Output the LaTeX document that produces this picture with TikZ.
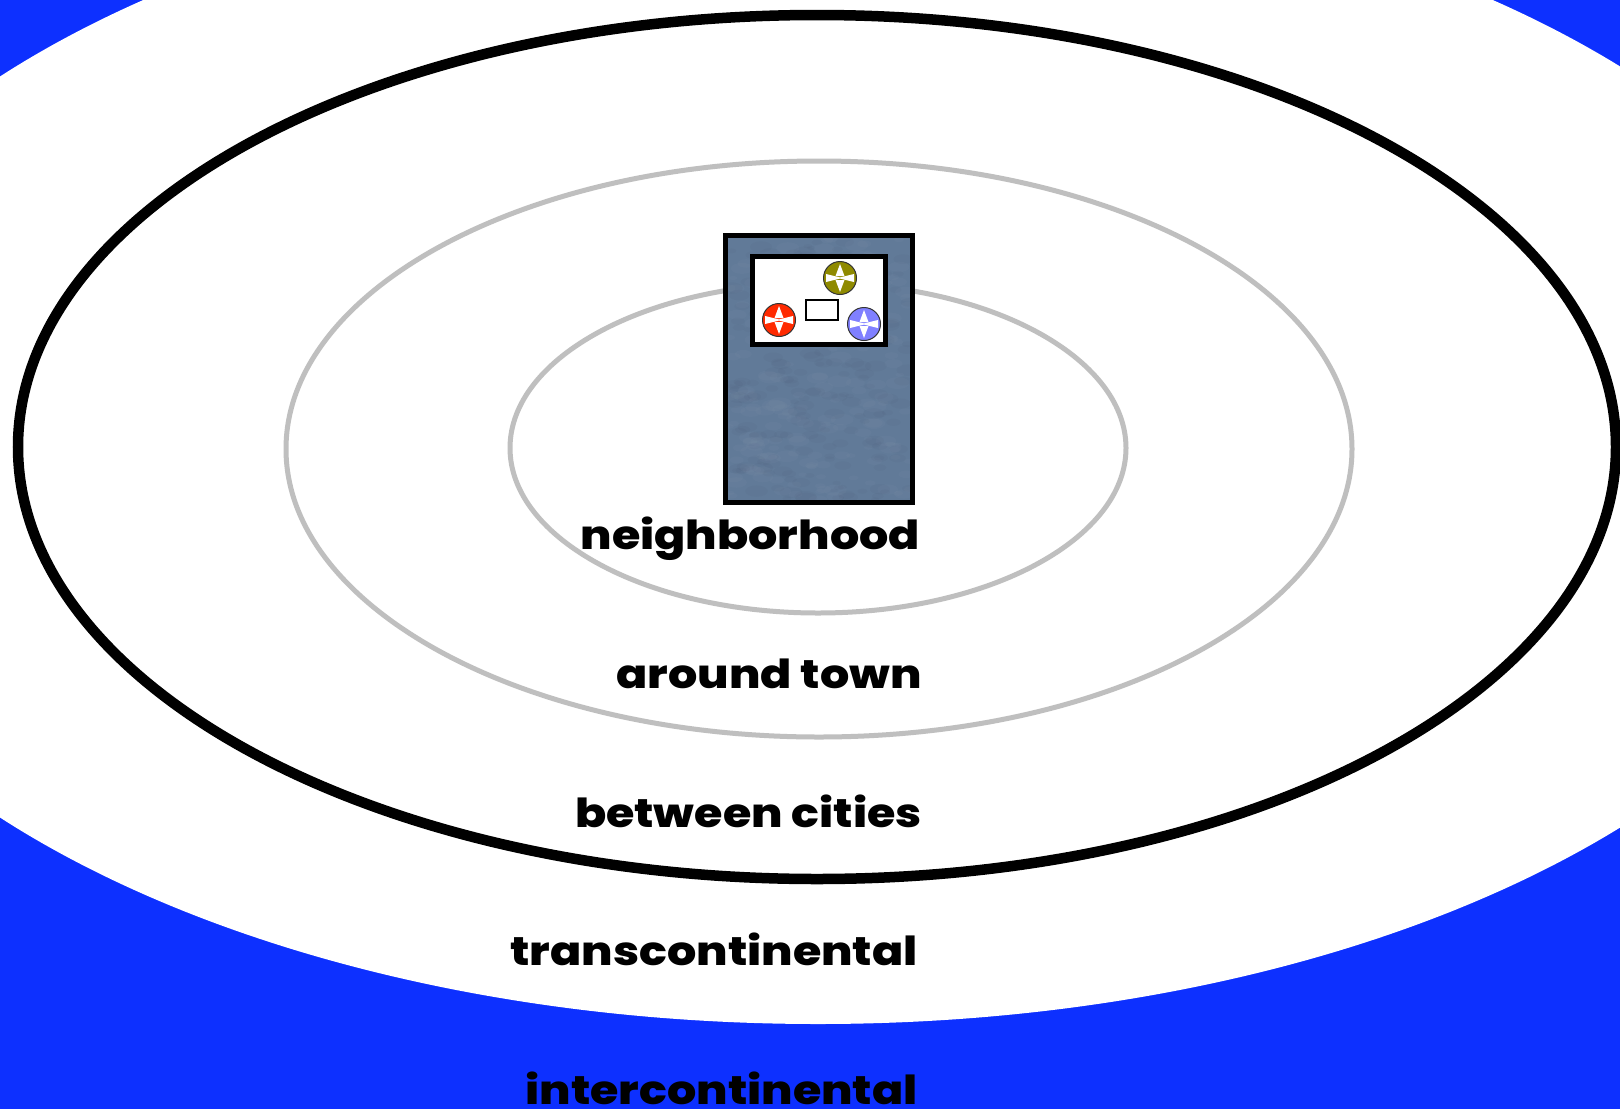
\documentclass[tikz,border=0pt]{standalone}
\usepackage{fontspec}
\newfontfamily\labfont[Ligatures=NoCommon,FakeStretch=1.15]{Poppins ExtraBold}
\usetikzlibrary{calc}
\definecolor{bgblue}{HTML}{0D30FF}
\definecolor{ringgray}{HTML}{BFBFBF}
\definecolor{slate}{HTML}{617A98}
\definecolor{olivedot}{HTML}{8F8A00}
\definecolor{reddot}{HTML}{FF2A00}
\definecolor{bluedot}{HTML}{8080FF}
\tikzset{
  ring/.style={draw=ringgray,line width=5pt},
  scope label/.style={anchor=base east,inner sep=0pt,font=\labfont\fontsize{40}{40}\selectfont,text=black,text depth=0pt},
  dot/.style={circle,draw=black!80,line width=1pt,minimum size=33pt,inner sep=0pt},
  star/.style={fill=white,draw=none}
}
\newcommand{\compass}[3]{%
  \node[dot,fill=#3] (#1) at (#2) {};
  \fill[star] ($(#1)+(0,-14)$) -- ($(#1)+(4.5,-2)$) -- ($(#1)+(-4.5,-2)$) -- cycle;
  \fill[star] ($(#1)+(0,14)$) -- ($(#1)+(4.5,2)$) -- ($(#1)+(-4.5,2)$) -- cycle;
  \fill[star] ($(#1)+(-14,-4)$) -- ($(#1)+(0,-.6)$) -- ($(#1)+(14,-4)$) -- ($(#1)+(14,4)$) -- ($(#1)+(0,.6)$) -- ($(#1)+(-14,4)$) -- cycle;
}
\begin{document}
\begin{tikzpicture}[x=1pt,y=-1pt]
\useasboundingbox (0,0) rectangle (1620,1109);
\begin{scope}
\clip (0,0) rectangle (1620,1109);
\fill[bgblue] (0,0) rectangle (1620,1109);
\fill[white] (818,447) ellipse [x radius=1067pt,y radius=577pt];
\draw[ring] (818,448) ellipse [x radius=308pt,y radius=165pt];
\draw[ring] (819,449) ellipse [x radius=533pt,y radius=288pt];
\draw[black,line width=10.5pt] (817,447) ellipse [x radius=799pt,y radius=432pt];
\end{scope}
% slate card
\fill[slate] (725,235) rectangle (913,503);
\begin{scope}
\clip (728,238) rectangle (910,500);
\pgfmathsetseed{7}
\foreach \i in {1,...,420}{
  \pgfmathsetmacro{\px}{728+rnd*182}
  \pgfmathsetmacro{\py}{238+rnd*262}
  \pgfmathsetmacro{\pr}{2+rnd*4}
  \pgfmathtruncatemacro{\pick}{rnd<0.5?1:0}
  \ifnum\pick=1\def\shade{black}\else\def\shade{white}\fi
  \fill[\shade,opacity=0.02] (\px,\py) ellipse [x radius=2*\pr pt,y radius=\pr pt];
}
\end{scope}
\node[draw=black,line width=5pt,minimum width=187pt,minimum height=267pt,inner sep=0pt] (card) at (819,369) {};
\node[draw=black,fill=white,line width=5pt,minimum width=133pt,minimum height=88pt,inner sep=0pt] (window) at (819,300.5) {};
\node[draw=black,fill=white,line width=2.5pt,minimum width=32pt,minimum height=20pt,inner sep=0pt] (desk) at (822,310) {};
\compass{oliveC}{840,278}{olivedot}
\compass{redC}{779,320}{reddot}
\compass{blueC}{864,324}{bluedot}
\node[scope label] (n1) at (920,549) {neighborhood};
\node[scope label] (n2) at (922,688) {around town};
\node[scope label] (n3) at (922,827) {between cities};
\node[scope label] (n4) at (918,965) {transcontinental};
\node[scope label] (n5) at (918,1104) {intercontinental};
\end{tikzpicture}
\end{document}
